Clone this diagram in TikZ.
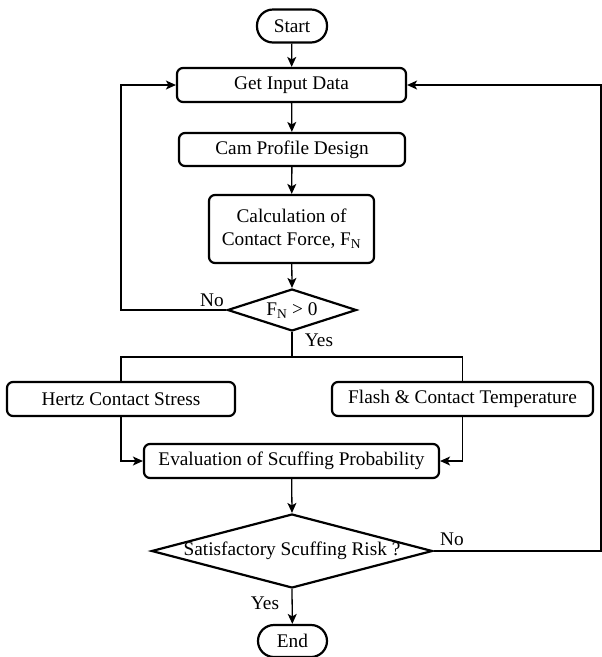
\documentclass[tikz,border=0pt]{standalone}
\usepackage{fontspec}
\setmainfont{Liberation Serif}
\usetikzlibrary{shapes.geometric,arrows.meta}
\begin{document}
\begin{tikzpicture}[x=1pt,y=-1pt,
  every node/.style={font=\fontsize{19.3}{22}\selectfont},
  box/.style={draw,line width=2.2pt,rounded corners=6pt,inner sep=0pt,align=center},
  term/.style={draw,line width=2.2pt,rounded corners=16pt,inner sep=0pt},
  dia/.style={draw,shape=diamond,line width=2.2pt,inner sep=0pt},
  txt/.style={inner sep=0pt},
  conn/.style={line width=1.3pt,-{Stealth[length=10pt,width=9pt,inset=2.5pt]}},
  plain/.style={line width=1.3pt}]
\useasboundingbox (0,0) rectangle (602,657);

\node[term,minimum width=70pt,minimum height=33pt] (start) at (292,26) {Start};
\node[box,minimum width=229pt,minimum height=34pt] (input) at (291.5,85) {Get Input Data};
\node[box,minimum width=226pt,minimum height=33pt] (cam) at (292,149.5) {Cam Profile Design};
\node[box,minimum width=165pt,minimum height=68pt] (calc) at (291.5,229) {Calculation of\\[1pt]Contact Force, F\textsubscript{N}};
\node[dia,minimum width=129pt,minimum height=42pt] (d1) at (292,310) {};
\node[txt] (d1t) at (292,311) {F\textsubscript{N} > 0};
\node[box,minimum width=228pt,minimum height=34pt] (hertz) at (121,399) {Hertz Contact Stress};
\node[box,minimum width=261pt,minimum height=34pt] (flash) at (462.5,399) {Flash \& Contact Temperature};
\node[box,minimum width=295pt,minimum height=34pt] (eval) at (291.5,461) {Evaluation of Scuffing Probability};
\node[dia,minimum width=281pt,minimum height=74pt] (d2) at (292,551) {};
\node[txt] (d2t) at (292,551) {Satisfactory Scuffing Risk ?};
\node[term,minimum width=69pt,minimum height=32pt] (end) at (292.5,641) {End};

\coordinate (lx) at (121,310);
\coordinate (ly) at (121,85);
\coordinate (rx) at (601,551);
\coordinate (ry) at (601,85);
\coordinate (br) at (292,357);

\node[txt] (no1) at (212,300) {No};
\node[txt] (yes1) at (319,340) {Yes};
\node[txt] (no2) at (452,539) {No};
\node[txt] (yes2) at (265,603) {Yes};

\draw[conn] (start) -- (input);
\draw[conn] (input) -- (cam);
\draw[conn] (cam) -- (calc);
\draw[conn] (calc) -- (d1.north);
\draw[conn] (d1.west) -- (lx) -- (ly) -- (input.west);
\draw[plain] (d1.south) -- (br);
\draw[plain] (hertz.north) |- (br) -| (flash.north);
\draw[conn] (hertz.south) |- (eval.west);
\draw[conn] (flash.south) |- (eval.east);
\draw[conn] (eval) -- (d2.north);
\draw[conn] (d2.east) -- (rx) -- (ry) -- (input.east);
\draw[conn] (d2.south) -- (end);
\end{tikzpicture}
\end{document}
